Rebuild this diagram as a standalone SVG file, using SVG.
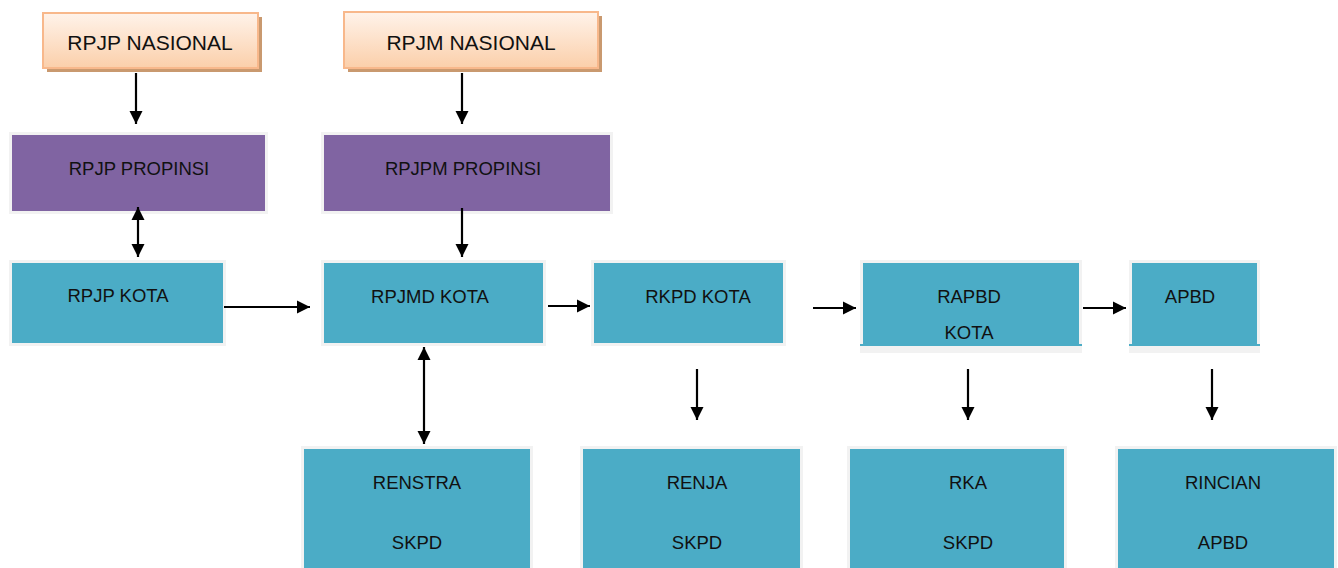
<svg xmlns="http://www.w3.org/2000/svg" width="1338" height="568" viewBox="0 0 1338 568">
<defs>
<linearGradient id="peach" x1="0" y1="0" x2="0" y2="1">
<stop offset="0" stop-color="#fff3ea"/>
<stop offset="1" stop-color="#fbcfaa"/>
</linearGradient>
<marker id="ah" viewBox="0 0 10 10" refX="10" refY="5" markerWidth="6" markerHeight="6" markerUnits="strokeWidth" orient="auto-start-reverse">
<path d="M0,0 L10,5 L0,10 z" fill="#000"/>
</marker>
<style>
.nat{fill:url(#peach);stroke:#f8b88b;stroke-width:2}
.sh{fill:#c9996f}
.prop{fill:#8064a2;stroke:#f2f2f2;stroke-width:3}
.kota{fill:#4bacc6;stroke:#f2f2f2;stroke-width:3}
text{font-family:"Liberation Sans",Arial,sans-serif;font-size:18.5px;fill:#111;text-anchor:middle}
.big{font-size:21px}
.c line{stroke:#000;stroke-width:2.2}
.one{marker-end:url(#ah)}
.two{marker-start:url(#ah);marker-end:url(#ah)}
</style>
</defs>
<rect width="1338" height="568" fill="#fff"/>
<g id="rpjp-nasional">
<rect class="sh" x="47" y="17" width="215" height="55"/>
<rect class="nat" x="43" y="13" width="215" height="55"/>
<text class="big" x="150" y="50">RPJP NASIONAL</text>
</g>
<g id="rpjm-nasional">
<rect class="sh" x="348" y="16" width="254" height="56"/>
<rect class="nat" x="344" y="12" width="254" height="56"/>
<text class="big" x="471" y="50">RPJM NASIONAL</text>
</g>
<g id="rpjp-propinsi">
<rect class="prop" x="10.5" y="133.5" width="256" height="79"/>
<text x="139" y="175">RPJP PROPINSI</text>
</g>
<g id="rpjpm-propinsi">
<rect class="prop" x="322.5" y="133.5" width="289" height="79"/>
<text x="463" y="175">RPJPM PROPINSI</text>
</g>
<g id="rpjp-kota">
<rect class="kota" x="10.5" y="261.5" width="214" height="83"/>
<text x="118" y="302">RPJP KOTA</text>
</g>
<g id="rpjmd-kota">
<rect class="kota" x="322.5" y="261.5" width="222" height="83"/>
<text x="430" y="303">RPJMD KOTA</text>
</g>
<g id="rkpd-kota">
<rect class="kota" x="592.5" y="261.5" width="192" height="83"/>
<text x="698" y="303">RKPD KOTA</text>
</g>
<g id="rapbd-kota">
<rect x="860" y="260" width="222" height="93" fill="#f2f2f2"/>
<rect x="863" y="263" width="216" height="82" fill="#4bacc6"/>
<line x1="860" y1="345" x2="1082" y2="345" stroke="#4bacc6" stroke-width="2"/>
<text x="969" y="303">RAPBD</text>
<text x="969" y="339">KOTA</text>
</g>
<g id="apbd">
<rect x="1129" y="260" width="131" height="93" fill="#f2f2f2"/>
<rect x="1132" y="263" width="125" height="82" fill="#4bacc6"/>
<line x1="1129" y1="345" x2="1260" y2="345" stroke="#4bacc6" stroke-width="2"/>
<text x="1190" y="303">APBD</text>
</g>
<g id="renstra-skpd">
<rect class="kota" x="302.5" y="447.5" width="229" height="130"/>
<text x="417" y="489">RENSTRA</text>
<text x="417" y="549">SKPD</text>
</g>
<g id="renja-skpd">
<rect class="kota" x="581.5" y="447.5" width="220" height="130"/>
<text x="697" y="489">RENJA</text>
<text x="697" y="549">SKPD</text>
</g>
<g id="rka-skpd">
<rect class="kota" x="848.5" y="447.5" width="217" height="130"/>
<text x="968" y="489">RKA</text>
<text x="968" y="549">SKPD</text>
</g>
<g id="rincian-apbd">
<rect class="kota" x="1116.5" y="447.5" width="219" height="130"/>
<text x="1223" y="489">RINCIAN</text>
<text x="1223" y="549">APBD</text>
</g>
<g id="connectors" class="c">
<line class="one" x1="136" y1="73" x2="136" y2="124"/>
<line class="one" x1="462" y1="73" x2="462" y2="124"/>
<line class="two" x1="138" y1="207" x2="138" y2="257"/>
<line class="one" x1="462" y1="208" x2="462" y2="257"/>
<line class="one" x1="224" y1="307" x2="310" y2="307"/>
<line class="two" x1="424" y1="347" x2="424" y2="444"/>
<line class="one" x1="548" y1="306" x2="590" y2="306"/>
<line class="one" x1="813" y1="308" x2="856" y2="308"/>
<line class="one" x1="1083" y1="308" x2="1126" y2="308"/>
<line class="one" x1="697" y1="369" x2="697" y2="420"/>
<line class="one" x1="968" y1="369" x2="968" y2="420"/>
<line class="one" x1="1212" y1="369" x2="1212" y2="420"/>
</g>
</svg>
